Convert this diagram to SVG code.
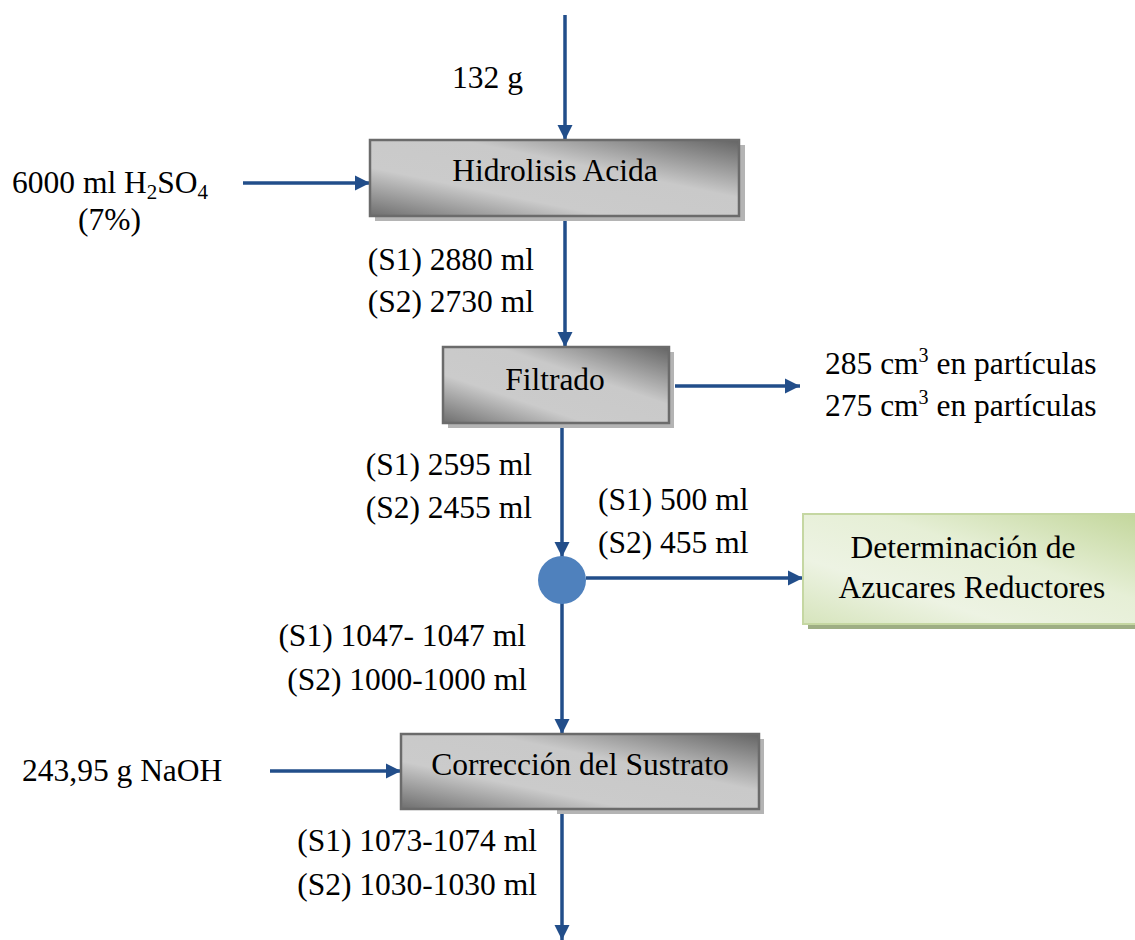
<svg xmlns="http://www.w3.org/2000/svg" width="1135" height="940" viewBox="0 0 1135 940">
  <style>
    .t { font-family: "Liberation Serif", "Times New Roman", serif; font-size: 31.5px; fill: #000; }
    .box { fill: url(#grayGrad); stroke: #6b6b6b; stroke-width: 2.5; }
    .shadow { fill: #b4b4b4; }
    .flow { stroke: #224e8a; stroke-width: 3.5; fill: none; marker-end: url(#arrow); }
  </style>
  <defs>
    <linearGradient id="grayGrad" x1="0" y1="1" x2="1" y2="0">
      <stop offset="0" stop-color="#6e6e6e"/>
      <stop offset="0.32" stop-color="#cbcbcb"/>
      <stop offset="0.62" stop-color="#c9c9c9"/>
      <stop offset="1" stop-color="#646464"/>
    </linearGradient>
    <linearGradient id="greenGrad" x1="0" y1="1" x2="1" y2="0">
      <stop offset="0" stop-color="#d6e4bc"/>
      <stop offset="0.3" stop-color="#edf3e3"/>
      <stop offset="0.6" stop-color="#e6efd6"/>
      <stop offset="1" stop-color="#c2d69a"/>
    </linearGradient>
    <marker id="arrow" viewBox="0 0 10 10" refX="10" refY="5" markerWidth="4.4" markerHeight="4.4" orient="auto" markerUnits="strokeWidth">
      <path d="M0,0 L10,5 L0,10 z" fill="#224e8a"/>
    </marker>
  </defs>

  <!-- connectors -->
  <g id="connectors">
    <line class="flow" x1="565" y1="15" x2="565" y2="140"/>
    <line class="flow" x1="243" y1="183" x2="370" y2="183"/>
    <line class="flow" x1="565" y1="217" x2="565" y2="347"/>
    <line class="flow" x1="675" y1="386" x2="800" y2="386"/>
    <line class="flow" x1="562" y1="424" x2="562" y2="557"/>
    <line class="flow" x1="586" y1="578" x2="803" y2="578"/>
    <line class="flow" x1="562" y1="603" x2="562" y2="734"/>
    <line class="flow" x1="270" y1="771" x2="401" y2="771"/>
    <line class="flow" x1="562" y1="810" x2="562" y2="940"/>
  </g>

  <!-- Hidrolisis Acida -->
  <g id="hidrolisis">
    <rect class="shadow" x="375" y="145" width="370" height="76"/>
    <rect class="box" x="370" y="140" width="369" height="76"/>
    <text class="t" x="555" y="181" text-anchor="middle">Hidrolisis Acida</text>
  </g>

  <!-- Filtrado -->
  <g id="filtrado">
    <rect class="shadow" x="448" y="352" width="226" height="76"/>
    <rect class="box" x="443" y="347" width="226" height="76"/>
    <text class="t" x="555" y="390" text-anchor="middle">Filtrado</text>
  </g>

  <!-- split point -->
  <g id="split">
    <circle cx="562" cy="580" r="24" fill="#4f81bd"/>
  </g>

  <!-- Determinación de Azucares Reductores -->
  <g id="azucares">
    <rect x="808" y="519" width="340" height="110" fill="#9eae84"/>
    <rect x="803" y="514" width="340" height="110" fill="url(#greenGrad)" stroke="#c5d7a2" stroke-width="2"/>
    <text class="t" x="963" y="558" text-anchor="middle">Determinación de</text>
    <text class="t" x="972" y="598" text-anchor="middle">Azucares Reductores</text>
  </g>

  <!-- Corrección del Sustrato (shadow partly hidden under the outlet label) -->
  <g id="correccion">
    <path class="shadow" d="M759,739 H764 V814 H557 V809 H759 Z"/>
    <rect class="box" x="401" y="734" width="358" height="75"/>
    <text class="t" x="580" y="775" text-anchor="middle">Corrección del Sustrato</text>
  </g>

  <!-- stream labels -->
  <g id="labels">
    <text class="t" x="452" y="88">132 g</text>
    <text class="t" x="12" y="193">6000 ml H<tspan font-size="21" dy="6">2</tspan><tspan dy="-6">SO</tspan><tspan font-size="21" dy="6">4</tspan></text>
    <text class="t" x="78" y="230">(7%)</text>
    <text class="t" x="534" y="270" text-anchor="end">(S1) 2880 ml</text>
    <text class="t" x="534" y="312" text-anchor="end">(S2) 2730 ml</text>
    <text class="t" x="825" y="374">285 cm<tspan font-size="20" dy="-12">3</tspan><tspan dy="12"> en partículas</tspan></text>
    <text class="t" x="825" y="416">275 cm<tspan font-size="20" dy="-12">3</tspan><tspan dy="12"> en partículas</tspan></text>
    <text class="t" x="532" y="475" text-anchor="end">(S1) 2595 ml</text>
    <text class="t" x="532" y="518" text-anchor="end">(S2) 2455 ml</text>
    <text class="t" x="598" y="510">(S1) 500 ml</text>
    <text class="t" x="598" y="553">(S2) 455 ml</text>
    <text class="t" x="526" y="646" text-anchor="end">(S1) 1047- 1047 ml</text>
    <text class="t" x="527" y="690" text-anchor="end">(S2) 1000-1000 ml</text>
    <text class="t" x="22" y="781">243,95 g NaOH</text>
    <text class="t" x="537" y="851" text-anchor="end">(S1) 1073-1074 ml</text>
    <text class="t" x="537" y="895" text-anchor="end">(S2) 1030-1030 ml</text>
  </g>
</svg>
